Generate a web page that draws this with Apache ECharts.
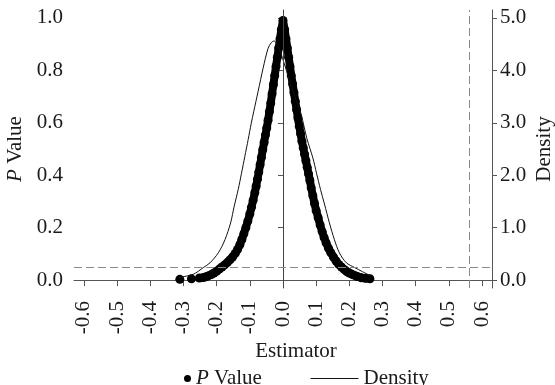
<!DOCTYPE html>
<html>
<head>
<meta charset="utf-8">
<script src="https://cdn.jsdelivr.net/npm/echarts@6/dist/echarts.min.js"></script>
<style>
  html, body { margin: 0; padding: 0; background: #fff; }
  #chart { width: 555px; height: 385px; }
</style>
</head>
<body>
<div id="chart"></div>
<script>
// tick labels
const xTicks = [-0.6, -0.5, -0.4, -0.3, -0.2, -0.1, 0, 0.1, 0.2, 0.3, 0.4, 0.5, 0.6];
const pTicks = [0, 0.2, 0.4, 0.6, 0.8, 1.0];
const densityTicks = [0, 1, 2, 3, 4, 5];

// P value points (estimator, p)
const pEst = [-0.311, -0.276, -0.252, -0.240, -0.232, -0.224, -0.216, -0.208, -0.200, -0.192,
  -0.184, -0.176, -0.168, -0.160, -0.152, -0.144, -0.137, -0.130, -0.124, -0.118,
  -0.112, -0.106, -0.100, -0.095, -0.090, -0.085, -0.081, -0.077, -0.073, -0.069,
  -0.065, -0.061, -0.057, -0.053, -0.049, -0.045, -0.041, -0.037, -0.033, -0.029,
  -0.025, -0.021, -0.017, -0.013, -0.009, -0.005, 0.000,
  0.005, 0.009, 0.013, 0.017, 0.021, 0.025, 0.029, 0.033, 0.037, 0.041,
  0.045, 0.049, 0.053, 0.057, 0.061, 0.065, 0.069, 0.073, 0.077, 0.081,
  0.085, 0.090, 0.095, 0.100, 0.106, 0.112, 0.118, 0.124, 0.130, 0.137,
  0.144, 0.152, 0.160, 0.168, 0.176, 0.184, 0.192, 0.200, 0.208, 0.216,
  0.224, 0.236, 0.248, 0.262];
const pVal = [0.003, 0.005, 0.008, 0.010, 0.013, 0.017, 0.021, 0.027, 0.034, 0.042,
  0.050, 0.058, 0.067, 0.077, 0.088, 0.102, 0.117, 0.135, 0.155, 0.177,
  0.200, 0.225, 0.252, 0.278, 0.305, 0.333, 0.358, 0.385, 0.412, 0.440,
  0.468, 0.497, 0.525, 0.553, 0.580, 0.610, 0.642, 0.675, 0.710, 0.745,
  0.780, 0.815, 0.850, 0.885, 0.920, 0.955, 0.990,
  0.955, 0.920, 0.885, 0.850, 0.815, 0.780, 0.748, 0.715, 0.682, 0.650,
  0.618, 0.587, 0.558, 0.530, 0.505, 0.480, 0.455, 0.430, 0.405, 0.380,
  0.352, 0.322, 0.292, 0.265, 0.238, 0.210, 0.185, 0.162, 0.142, 0.122,
  0.105, 0.088, 0.073, 0.060, 0.050, 0.041, 0.033, 0.027, 0.022, 0.018,
  0.014, 0.009, 0.007, 0.005];

// density curve (estimator, density)
const densEst = [-0.316, -0.271, -0.240, -0.220, -0.195, -0.175, -0.158, -0.147, -0.135, -0.125,
  -0.115, -0.105, -0.096, -0.088, -0.075, -0.060, -0.045, -0.035, -0.027, -0.018,
  -0.005, 0.010, 0.025, 0.040, 0.055, 0.072, 0.090, 0.101, 0.113, 0.125,
  0.140, 0.155, 0.170, 0.191, 0.216, 0.240, 0.265];
const densVal = [0.05, 0.11, 0.24, 0.33, 0.52, 0.77, 1.09, 1.41, 1.73, 2.04,
  2.36, 2.68, 2.98, 3.22, 3.60, 4.04, 4.42, 4.53, 4.56, 4.50,
  4.30, 4.00, 3.70, 3.42, 3.15, 2.70, 2.33, 2.04, 1.73, 1.45,
  1.09, 0.77, 0.52, 0.33, 0.24, 0.16, 0.08];

const thresholdP = 0.05;
const refEstimator = 0.565;

const pPoints = pEst.map((x, i) => [x, pVal[i]]);
const pBand = pPoints.filter(d => d[0] >= -0.245);
const densPoints = densEst.map((x, i) => [x, densVal[i]]);

const serif = 'Liberation Serif';
const axisColor = '#555';
const textColor = '#1a1a1a';

const chart = echarts.init(document.getElementById('chart'), null, { renderer: 'canvas' });
chart.setOption({
  animation: false,
  textStyle: { fontFamily: serif },
  grid: { left: 74, right: 63, top: 10, bottom: 97, outerBoundsMode: 'none' },
  legend: [
    {
      left: 184,
      top: 368,
      padding: 0,
      itemWidth: 7,
      itemHeight: 7,
      itemTextGap: 6,
      data: [{ name: 'P Value', icon: 'circle' }],
      formatter: () => '{i|P} Value',
      textStyle: {
        fontFamily: serif, fontSize: 21, color: textColor,
        rich: { i: { fontFamily: serif, fontSize: 21, fontStyle: 'italic', color: textColor } }
      }
    },
    {
      left: 310,
      top: 368,
      padding: 0,
      itemWidth: 48,
      itemHeight: 14,
      itemTextGap: 12,
      itemStyle: { opacity: 0 },
      lineStyle: { width: 1, color: '#111' },
      data: [{ name: 'Density' }],
      textStyle: { fontFamily: serif, fontSize: 21, color: textColor }
    }
  ],
  xAxis: {
    type: 'value',
    min: -0.63,
    max: 0.63,
    name: 'Estimator',
    nameLocation: 'middle',
    nameGap: 53,
    nameMoveOverlap: false,
    nameTextStyle: { fontFamily: serif, fontSize: 21, color: textColor, padding: [0, 0, 0, 26] },
    axisLine: { show: true, lineStyle: { color: axisColor } },
    axisTick: { show: true, length: 6, customValues: xTicks, lineStyle: { color: axisColor } },
    axisLabel: {
      customValues: xTicks,
      rotate: 90,
      margin: 13,
      fontFamily: serif,
      fontSize: 21,
      color: textColor,
      formatter: v => v.toFixed(1)
    },
    splitLine: { show: false }
  },
  yAxis: [
    {
      type: 'value',
      min: -0.03,
      max: 1.03,
      name: '{i|P} Value',
      nameLocation: 'middle',
      nameGap: 48,
      nameMoveOverlap: false,
      nameTextStyle: {
        fontFamily: serif, fontSize: 21, color: textColor,
        rich: { i: { fontFamily: serif, fontSize: 21, fontStyle: 'italic', color: textColor } }
      },
      axisLine: { show: true, lineStyle: { color: axisColor } },
      axisTick: { show: true, length: 5, customValues: pTicks, lineStyle: { color: axisColor } },
      axisLabel: {
        customValues: pTicks,
        margin: 11,
        fontFamily: serif,
        fontSize: 21,
        color: textColor,
        formatter: v => v.toFixed(1)
      },
      splitLine: { show: false }
    },
    {
      type: 'value',
      position: 'right',
      min: -0.15,
      max: 5.15,
      name: 'Density',
      nameLocation: 'middle',
      nameGap: 42,
      nameMoveOverlap: false,
      nameTextStyle: { fontFamily: serif, fontSize: 21, color: textColor },
      axisLine: { show: true, lineStyle: { color: axisColor } },
      axisTick: { show: true, length: 5, customValues: densityTicks, lineStyle: { color: axisColor } },
      axisLabel: {
        customValues: densityTicks,
        margin: 8,
        fontFamily: serif,
        fontSize: 21,
        color: textColor,
        formatter: v => v.toFixed(1)
      },
      splitLine: { show: false }
    }
  ],
  series: [
    {
      name: 'Density',
      type: 'line',
      yAxisIndex: 1,
      data: densPoints,
      symbol: 'none',
      smooth: 0.3,
      lineStyle: { color: '#111', width: 1 },
      itemStyle: { color: '#111' },
      z: 3
    },
    {
      name: 'P Value',
      type: 'line',
      yAxisIndex: 0,
      data: pBand,
      symbol: 'none',
      lineStyle: { color: '#000', width: 8, cap: 'round', join: 'round' },
      itemStyle: { color: '#000' },
      z: 2,
      markLine: {
        silent: true,
        symbol: ['none', 'none'],
        label: { show: false },
        data: [
          { xAxis: 0, lineStyle: { color: '#444', width: 1, type: 'solid' } },
          { xAxis: refEstimator, lineStyle: { color: '#888', width: 1, type: [8, 4] } },
          { yAxis: thresholdP, lineStyle: { color: '#888', width: 1, type: [8, 4] } }
        ]
      }
    },
    {
      name: 'P Value',
      type: 'scatter',
      yAxisIndex: 0,
      data: pPoints,
      symbol: 'circle',
      symbolSize: 9,
      itemStyle: { color: '#000', opacity: 1 },
      z: 2
    }
  ]
});
window.addEventListener('resize', chart.resize);
</script>
</body>
</html>
